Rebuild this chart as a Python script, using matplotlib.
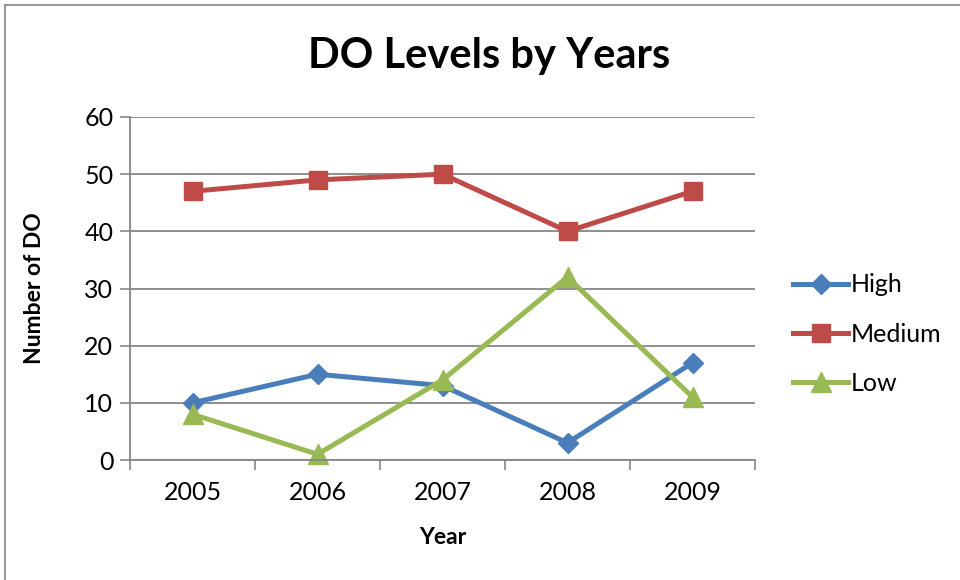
import matplotlib.pyplot as plt
from matplotlib.lines import Line2D

years = ['2005', '2006', '2007', '2008', '2009']
high = [10, 15, 13, 3, 17]
medium = [47, 49, 50, 40, 47]
low = [8, 1, 14, 32, 11]

plt.rcParams['font.family'] = ['Lato', 'DejaVu Sans']

fig = plt.figure(figsize=(9.6, 5.8), dpi=100)
ax = fig.add_axes([130/960, 1-460/580, 625/960, 343/580])

grey = '#868686'
x = list(range(len(years)))
ax.plot(x, high, color='#4A7EBB', lw=3.6, marker='D', ms=10, label='High', clip_on=False)
ax.plot(x, medium, color='#BE4B48', lw=3.6, marker='s', ms=13, label='Medium', clip_on=False)
ax.plot(x, low, color='#98B954', lw=3.6, marker='^', ms=14, label='Low', clip_on=False)

ax.set_xlim(-0.5, 4.5)
ax.set_ylim(0, 60)
ax.set_yticks(range(0, 61, 10))
ax.set_xticks([i - 0.5 for i in range(6)])
ax.set_xticklabels([])
ax.set_xticks(x, minor=True)
ax.set_xticklabels(years, minor=True)
ax.tick_params(axis='x', which='minor', length=0, labelsize=18, pad=15)
ax.tick_params(axis='x', which='major', length=7, width=1.2, color=grey, direction='out')
ax.tick_params(axis='y', length=7, width=1.2, color=grey, labelsize=18, pad=5)
ax.grid(axis='y', color=grey, lw=1.3)
ax.set_axisbelow(True)
for s in ['top', 'right']:
    ax.spines[s].set_visible(False)
for s in ['left', 'bottom']:
    ax.spines[s].set_color(grey)
    ax.spines[s].set_linewidth(1.3)

ax.set_xlabel('Year', fontsize=16.5, fontweight='bold', labelpad=17)
ax.set_ylabel('Number of DO', fontsize=16.5, fontweight='bold', labelpad=28)
fig.text(489/960, 1-56/580, 'DO Levels by Years', fontsize=30, fontweight='bold',
         ha='center', va='center')

ax.legend(loc='center left', bbox_to_anchor=(793/960, 1-334/580), bbox_transform=fig.transFigure,
          frameon=False, fontsize=18, handlelength=2.2, handletextpad=0.12,
          labelspacing=1.05, borderpad=0, borderaxespad=0)

# chart area border
fig.add_artist(Line2D([5/960, 5/960], [0, 1-5/580], color=grey, lw=1.2))
fig.add_artist(Line2D([5/960, 1], [1-5/580, 1-5/580], color=grey, lw=1.2))

fig.savefig('out.png', dpi=100)
